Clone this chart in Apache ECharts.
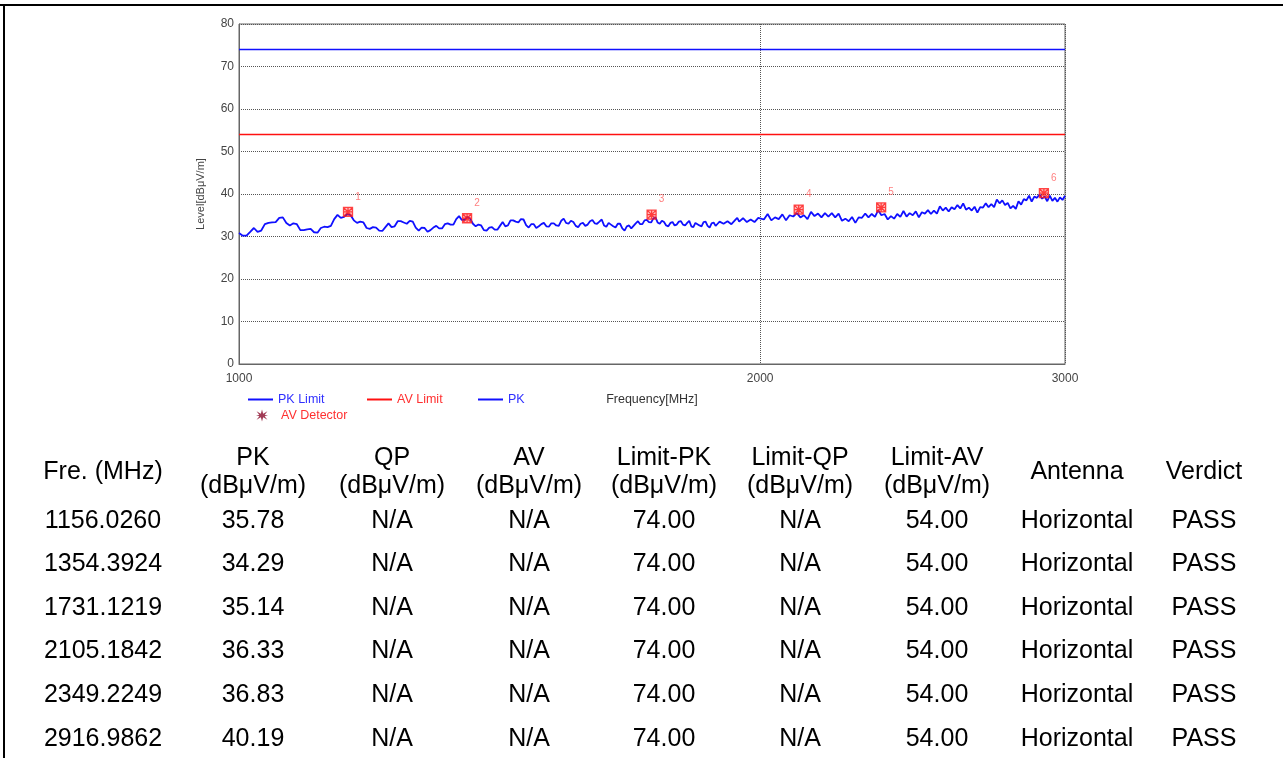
<!DOCTYPE html>
<html>
<head>
<meta charset="utf-8">
<script src="https://cdn.jsdelivr.net/npm/echarts@6/dist/echarts.min.js"></script>
<style>
html,body{margin:0;padding:0;background:#fff;}
#c{width:1283px;height:758px;}
</style>
</head>
<body>
<div id="c"></div>
<script>
// ---- data ----
// PK sweep, segment 1: 1000 MHz .. 1995 MHz, 5 MHz per point
const sweep1Start = 1000, sweep1Step = 5;
const pkTrace1 = [
30.8,30.2,30.2,31.1,32.0,31.1,31.4,32.9,33.2,33.3,33.4,34.4,34.5,33.2,32.6,33.1,32.9,31.5,31.5,31.7,
31.8,31.0,30.9,32.0,32.3,32.2,32.5,34.1,35.1,34.4,34.6,35.3,35.0,33.8,33.2,33.5,33.3,32.0,31.8,32.2,
32.1,31.4,31.3,32.2,33.1,32.2,32.4,33.6,33.6,33.3,33.0,33.7,33.5,32.1,31.4,32.1,32.0,31.1,31.5,32.1,
32.5,31.9,31.9,32.9,33.1,32.8,32.8,34.1,34.8,33.9,33.9,34.6,34.2,33.0,32.4,32.8,32.6,31.5,31.4,32.1,
32.2,31.6,31.6,32.5,33.4,32.4,32.6,33.8,33.8,33.5,33.3,34.1,34.0,32.7,32.1,32.9,32.9,32.0,32.4,32.9,
33.2,32.4,32.3,33.1,33.1,32.6,32.5,33.7,34.2,33.2,33.0,33.7,33.4,32.5,32.2,33.0,33.2,32.5,32.8,33.6,
33.9,33.1,33.0,33.5,34.0,32.6,32.3,33.2,32.8,32.4,32.1,33.0,33.0,31.9,31.4,32.4,32.6,31.9,32.5,33.1,
33.6,32.9,32.9,33.8,33.9,33.4,33.3,34.2,34.5,33.3,33.0,33.7,33.4,32.6,32.4,33.2,33.4,32.6,32.8,33.5,
33.6,32.8,32.6,33.2,33.7,32.4,32.2,33.2,32.9,32.6,32.4,33.4,33.5,32.5,32.1,33.1,33.3,32.5,33.0,33.5,
33.8,33.0,32.8,33.6,33.5,32.9,32.7,33.9,34.4,33.5,33.4,34.3,34.1,33.4,33.2,34.0,34.2,33.4,33.6,34.4
];
// PK sweep, segment 2: 2000 MHz .. 3000 MHz, 10 MHz per point
const sweep2Start = 2000, sweep2Step = 10;
const pkTrace2 = [
34.7,34.0,35.3,33.8,34.5,34.1,35.2,33.8,35.0,34.7,
35.5,34.5,35.0,34.1,35.8,34.8,35.4,34.5,35.5,34.7,
35.5,34.5,35.4,33.7,34.2,33.6,34.6,33.2,34.5,34.4,
35.4,34.5,35.3,34.6,36.2,35.0,35.3,34.0,34.8,34.2,
35.3,34.6,36.0,34.7,35.5,35.0,35.9,34.5,35.7,35.4,
36.2,35.3,36.1,35.4,37.1,36.1,36.8,35.9,36.9,36.4,
37.4,36.6,37.8,36.3,36.8,36.1,37.0,35.6,36.9,36.8,
37.8,36.9,37.6,36.9,38.7,37.8,38.5,37.4,37.9,36.6,
37.2,36.5,38.3,37.5,38.8,38.5,39.6,38.2,39.4,39.1,
39.9,38.9,39.4,38.3,39.6,38.4,39.1,38.2,39.2,38.6,
39.6
];
const markerFreq = [1156.0260, 1354.3924, 1731.1219, 2105.1842, 2349.2249, 2916.9862];
const markerPK = [35.78, 34.29, 35.14, 36.33, 36.83, 40.19];
const pkLimit = 74;
const avLimit = 54;
const xTicks = [1000, 2000, 3000];

const tableHeader = ['Fre. (MHz)', 'PK\n(dBμV/m)', 'QP\n(dBμV/m)', 'AV\n(dBμV/m)', 'Limit-PK\n(dBμV/m)', 'Limit-QP\n(dBμV/m)', 'Limit-AV\n(dBμV/m)', 'Antenna', 'Verdict'];
const colFre = ['1156.0260', '1354.3924', '1731.1219', '2105.1842', '2349.2249', '2916.9862'];
const colPK = ['35.78', '34.29', '35.14', '36.33', '36.83', '40.19'];
const colQP = ['N/A', 'N/A', 'N/A', 'N/A', 'N/A', 'N/A'];
const colAV = ['N/A', 'N/A', 'N/A', 'N/A', 'N/A', 'N/A'];
const colLimPK = ['74.00', '74.00', '74.00', '74.00', '74.00', '74.00'];
const colLimQP = ['N/A', 'N/A', 'N/A', 'N/A', 'N/A', 'N/A'];
const colLimAV = ['54.00', '54.00', '54.00', '54.00', '54.00', '54.00'];
const colAnt = ['Horizontal', 'Horizontal', 'Horizontal', 'Horizontal', 'Horizontal', 'Horizontal'];
const colVerdict = ['PASS', 'PASS', 'PASS', 'PASS', 'PASS', 'PASS'];

// ---- build ----
const FONT = '"Liberation Sans", Arial, sans-serif';
const pkData = pkTrace1.map((v, i) => [sweep1Start + i * sweep1Step, v])
  .concat(pkTrace2.map((v, i) => [sweep2Start + i * sweep2Step, v]));
const fMin = xTicks[0], fMax = xTicks[xTicks.length - 1];
const markerData = markerFreq.map((f, i) => [f, markerPK[i]]);

const colCenters = [103, 253, 392, 529, 664, 800, 937, 1077, 1204];
const rowY = [521, 564, 608, 651, 695, 739];
const columns = [colFre, colPK, colQP, colAV, colLimPK, colLimQP, colLimAV, colAnt, colVerdict];
const TFONT = '25px ' + FONT;

const graphics = [
  {type: 'line', shape: {x1: 0, y1: 5, x2: 1283, y2: 5}, style: {stroke: '#000', lineWidth: 2}, z: 10},
  {type: 'line', shape: {x1: 4, y1: 4, x2: 4, y2: 758}, style: {stroke: '#000', lineWidth: 2}, z: 10}
];
tableHeader.forEach((h, c) => {
  graphics.push({type: 'text', x: colCenters[c], y: 472,
    style: {text: h, font: TFONT, fill: '#000', align: 'center', verticalAlign: 'middle', lineHeight: 28}});
});
columns.forEach((col, c) => {
  col.forEach((t, r) => {
    graphics.push({type: 'text', x: colCenters[c], y: rowY[r],
      style: {text: t, font: TFONT, fill: '#000', align: 'center', verticalAlign: 'middle'}});
  });
});

const legendBase = {orient: 'horizontal', itemWidth: 25, itemHeight: 2, itemGap: 10, padding: 0,
  textStyle: {fontSize: 12.5, fontFamily: FONT}, selectedMode: false};
const starPath = 'path://M5,0L6,3.5L9.5,1.5L7.2,4.5L10,5L7.2,5.6L9.5,8.5L6,6.5L5,10L4,6.5L0.5,8.5L2.8,5.6L0,5L2.8,4.5L0.5,1.5L4,3.5Z';

const chart = echarts.init(document.getElementById('c'), null, {renderer: 'canvas'});
chart.setOption({
  animation: false,
  backgroundColor: '#fff',
  grid: {left: 239, top: 24, width: 826, height: 340, show: true, borderColor: '#666', borderWidth: 1, containLabel: false},
  xAxis: {
    type: 'log', logBase: 10, min: fMin, max: fMax,
    name: 'Frequency[MHz]', nameLocation: 'middle', nameGap: 29,
    nameTextStyle: {fontSize: 12.5, color: '#333', fontFamily: FONT},
    axisLine: {show: true, lineStyle: {color: '#666'}},
    axisTick: {show: false, customValues: xTicks},
    axisLabel: {customValues: xTicks, fontSize: 12, color: '#444', fontFamily: FONT, margin: 9, formatter: v => String(Math.round(v))},
    splitLine: {show: true, lineStyle: {color: '#555', type: [1, 1], width: 1}}
  },
  yAxis: {
    type: 'value', min: 0, max: 80, interval: 10,
    name: 'Level[dBμV/m]', nameLocation: 'middle', nameGap: 33,
    nameTextStyle: {fontSize: 11, color: '#444', fontFamily: FONT},
    axisLine: {show: true, lineStyle: {color: '#666'}},
    axisTick: {show: false},
    axisLabel: {fontSize: 12, color: '#444', fontFamily: FONT, margin: 5},
    splitLine: {show: true, lineStyle: {color: '#555', type: [1, 1], width: 1}}
  },
  legend: [
    Object.assign({}, legendBase, {left: 248, top: 393, data: [{name: 'PK Limit', icon: 'rect', textStyle: {color: '#3030ff'}}]}),
    Object.assign({}, legendBase, {left: 367, top: 393, data: [{name: 'AV Limit', icon: 'rect', textStyle: {color: '#ff3030'}}]}),
    Object.assign({}, legendBase, {left: 478, top: 393, data: [{name: 'PK', icon: 'rect', textStyle: {color: '#3030ff'}}]}),
    Object.assign({}, legendBase, {left: 256, top: 409, itemWidth: 12, itemHeight: 12,
      data: [{name: 'AV Detector', icon: starPath, itemStyle: {color: '#8a0a2a', borderWidth: 0},
        textStyle: {color: '#ff3030', padding: [0, 0, 0, 8]}}]})
  ],
  series: [
    {name: 'PK Limit', type: 'line', data: [[fMin, pkLimit], [fMax, pkLimit]], symbol: 'none',
      lineStyle: {color: '#1010ff', width: 1.5}, itemStyle: {color: '#1010ff'}, z: 3},
    {name: 'AV Limit', type: 'line', data: [[fMin, avLimit], [fMax, avLimit]], symbol: 'none',
      lineStyle: {color: '#ff1010', width: 1.5}, itemStyle: {color: '#ff1010'}, z: 3},
    {name: 'PK', type: 'line', data: pkData, symbol: 'none',
      lineStyle: {color: '#1010ff', width: 1.8}, itemStyle: {color: '#1010ff'}, z: 4},
    {name: 'AV Detector', type: 'scatter', data: markerData,
      symbol: 'path://M0,0H10V10H0Z M0,0L10,10 M10,0L0,10 M5,0V10 M0,5H10', symbolSize: 9,
      itemStyle: {color: 'rgba(255,0,0,0.3)', borderColor: '#ff1a1a', borderWidth: 1.3},
      label: {show: true, position: 'inside', offset: [10, -15], formatter: p => String(p.dataIndex + 1),
        color: '#ff6060', fontSize: 10, fontFamily: FONT},
      z: 5}
  ],
  graphic: graphics
});
</script>
</body>
</html>
